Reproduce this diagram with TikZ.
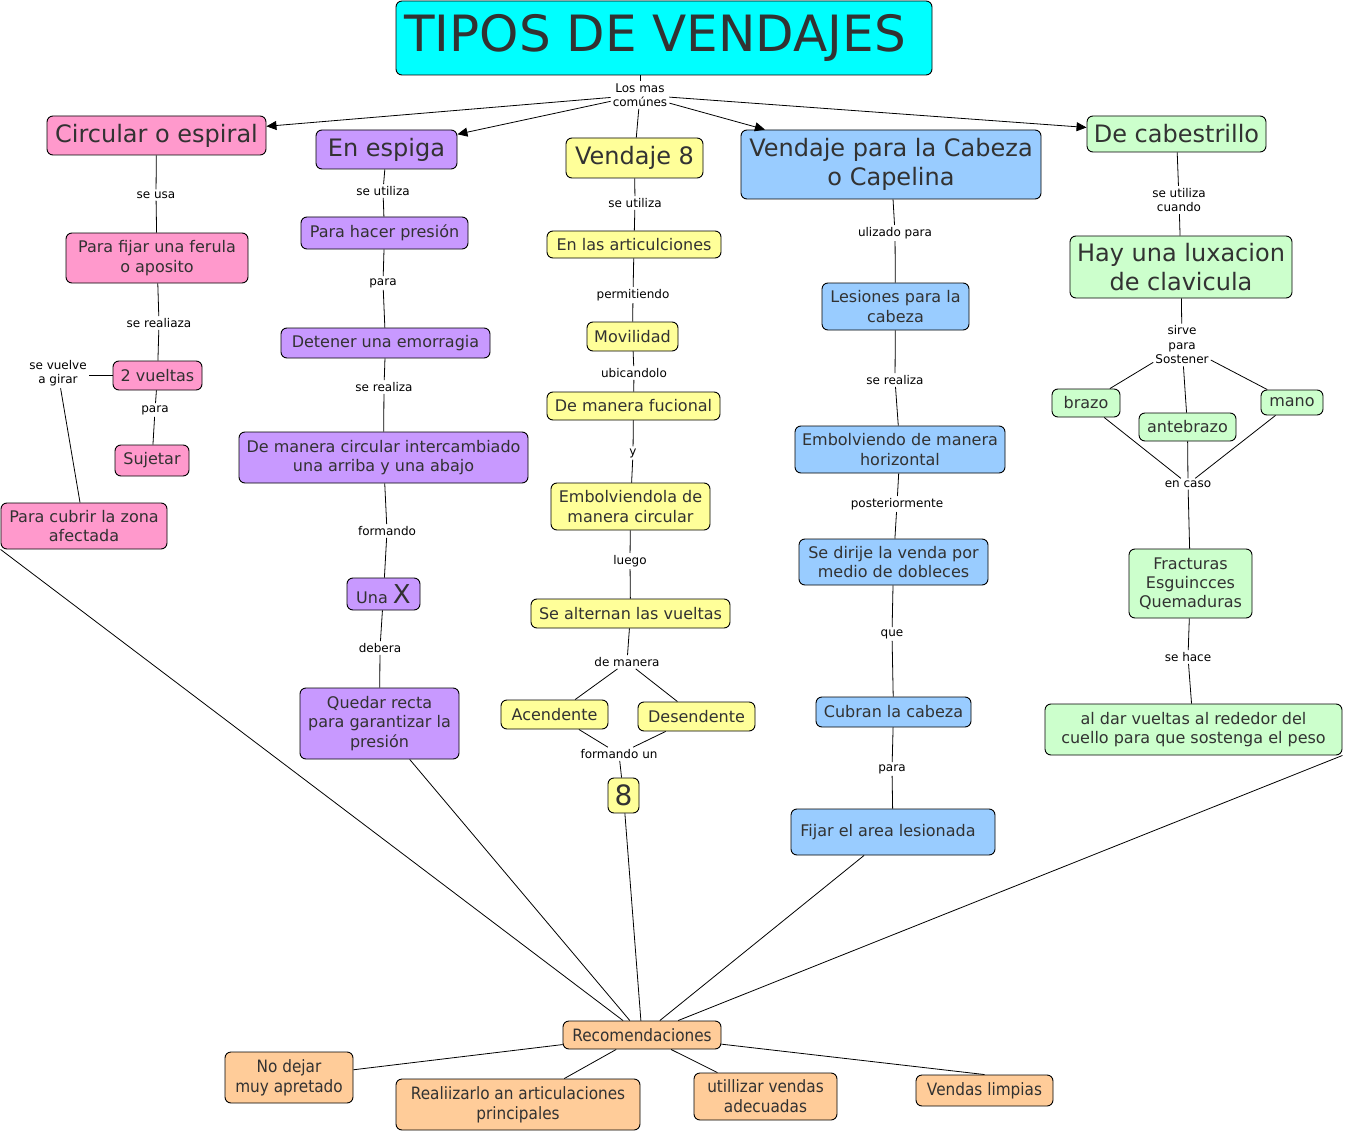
\documentclass[tikz,border=0pt]{standalone}
\usepackage{fontspec}
\setmainfont{DejaVu Sans}
\newfontfamily\condfont[FakeStretch=0.9]{DejaVu Sans}
\usetikzlibrary{arrows.meta}
\definecolor{ctitle}{RGB}{0,255,255}
\definecolor{cpink}{RGB}{255,153,204}
\definecolor{cpurple}{RGB}{200,153,255}
\definecolor{cyellow}{RGB}{255,255,153}
\definecolor{cblue}{RGB}{153,204,255}
\definecolor{cgreen}{RGB}{204,255,204}
\definecolor{corange}{RGB}{255,204,153}
\definecolor{txtgray}{RGB}{50,50,50}
\tikzset{
  concept/.style={draw=black,line width=0.9pt,rounded corners=6pt,inner sep=0pt,
    align=center,text=txtgray,font=\fontsize{16}{19.5}\selectfont},
  bigc/.style={font=\fontsize{24}{29}\selectfont},
  condc/.style={font=\condfont\fontsize{17}{20}\selectfont},
  linklabel/.style={inner sep=2pt,align=center,font=\fontsize{12}{14.5}\selectfont},
  link/.style={draw=black,line width=0.8pt},
  arr/.style={link,-{Triangle[length=10pt,width=9pt]}},
}
\newcommand{\cnode}[6]{\node[concept,#1,minimum width=#4,minimum height=#5] (#2) at (#3) {#6};}
\newcommand{\lnode}[3]{\node[linklabel] (#1) at (#2) {#3};}
\newcommand{\chain}[3]{\draw[link] (#1) -- (#2) -- (#3);}

\begin{document}
\begin{tikzpicture}[x=1pt,y=-1pt]
\useasboundingbox (0,0) rectangle (1345,1137);
\cnode{fill=ctitle,font=\fontsize{50}{52}\selectfont}{title}{664,38}{536}{74}{TIPOS DE VENDAJES\hspace*{18pt}}
\lnode{comunes}{640,95}{Los mas\\comúnes}
% primer nivel
\cnode{fill=cpink,bigc}{circular}{156.5,135.5}{219}{39}{Circular o espiral}
\cnode{fill=cpurple,bigc}{espiga}{386.5,149.5}{141}{39}{En espiga}
\cnode{fill=cyellow,bigc}{ocho}{634.5,158}{137}{40}{Vendaje 8}
\cnode{fill=cblue,bigc}{capelina}{891,164.5}{300}{69}{Vendaje para la Cabeza\\o Capelina}
\cnode{fill=cgreen,bigc}{cabestrillo}{1176.5,134}{179}{36}{De cabestrillo}
\draw[link] ([xshift=-24]title.south) -- (comunes);
\draw[arr] (comunes) -- (circular);
\draw[arr] (comunes) -- (espiga);
\draw[link] (comunes) -- (ocho);
\draw[arr] (comunes) -- (capelina);
\draw[arr] (comunes) -- (cabestrillo);
% circular o espiral
\cnode{fill=cpink}{ferula}{157,258}{182}{50}{Para fijar una ferula\\o aposito}
\cnode{fill=cpink}{vueltas}{157.5,375.5}{89}{29}{2 vueltas}
\cnode{fill=cpink}{sujetar}{152,460.5}{74}{31}{Sujetar}
\cnode{fill=cpink}{cubrir}{84,526}{166}{46}{Para cubrir la zona\\afectada}
\lnode{seusa}{156,195}{se usa}
\lnode{realiaza}{159,323}{se realiaza}
\lnode{paraA}{155,410}{para}
\lnode{girar}{58,373}{se vuelve\\a girar}
\chain{circular}{seusa}{ferula}
\chain{ferula}{realiaza}{vueltas}
\chain{vueltas}{paraA}{sujetar}
\draw[link] (vueltas.west) -- ([yshift=-2.5]girar.east);
\draw[link] (girar) -- (cubrir);
% en espiga
\cnode{fill=cpurple}{presion}{384.5,233}{167}{32}{Para hacer presión}
\cnode{fill=cpurple}{emorragia}{385.5,343}{209}{30}{Detener una emorragia}
\cnode{fill=cpurple}{intercambiado}{383.5,457.5}{289}{51}{De manera circular intercambiado\\una arriba y una abajo}
\cnode{fill=cpurple}{unax}{383.5,594}{73}{32}{Una {\fontsize{26}{26}\selectfont X}}
\cnode{fill=cpurple}{recta}{379.5,723.5}{159}{71}{Quedar recta\\para garantizar la\\presión}
\lnode{utilizaA}{383,191}{se utiliza}
\lnode{paraB}{383,283}{para}
\lnode{realizaA}{384,387}{se realiza}
\lnode{formando}{387,531}{formando}
\lnode{debera}{380,648}{debera}
\chain{espiga}{utilizaA}{presion}
\chain{presion}{paraB}{emorragia}
\chain{emorragia}{realizaA}{intercambiado}
\chain{intercambiado}{formando}{unax}
\chain{unax}{debera}{recta}
% vendaje 8
\cnode{fill=cyellow}{articul}{634,244.5}{174}{27}{En las articulciones}
\cnode{fill=cyellow}{movilidad}{632.5,336.5}{91}{29}{Movilidad}
\cnode{fill=cyellow}{fucional}{633.5,406}{173}{28}{De manera fucional}
\cnode{fill=cyellow}{embolv}{630.5,506.5}{159}{47}{Embolviendola de\\manera circular}
\cnode{fill=cyellow}{alternan}{630.5,613.5}{199}{29}{Se alternan las vueltas}
\cnode{fill=cyellow}{acend}{554.5,714.5}{107}{29}{Acendente}
\cnode{fill=cyellow}{desend}{696.5,716.5}{117}{29}{Desendente}
\cnode{fill=cyellow,font=\fontsize{28}{28}\selectfont}{numocho}{623.5,795.5}{31}{35}{8}
\lnode{utilizaB}{635,203}{se utiliza}
\lnode{permit}{633,295}{permitiendo}
\lnode{ubicando}{634,373}{ubicandolo}
\lnode{ylab}{633,453}{y}
\lnode{luego}{630,561}{luego}
\lnode{demanera}{627,662}{de manera}
\lnode{formun}{619,754}{formando un}
\chain{ocho}{utilizaB}{articul}
\chain{articul}{permit}{movilidad}
\chain{movilidad}{ubicando}{fucional}
\chain{fucional}{ylab}{embolv}
\chain{embolv}{luego}{alternan}
\chain{alternan}{demanera}{acend}
\draw[link] (demanera) -- (desend);
\chain{acend}{formun}{numocho}
\draw[link] (desend) -- (formun);
% capelina
\cnode{fill=cblue}{lesiones}{895.5,306.5}{147}{47}{Lesiones para la\\cabeza}
\cnode{fill=cblue}{horiz}{900,449.5}{210}{47}{Embolviendo de manera\\horizontal}
\cnode{fill=cblue}{dirije}{893.5,562}{189}{46}{Se dirije la venda por\\medio de dobleces}
\cnode{fill=cblue}{cubran}{893.5,712}{155}{30}{Cubran la cabeza}
\cnode{fill=cblue}{fijar}{893,832}{204}{46}{\raisebox{-5pt}{Fijar el area lesionada}\hspace*{10pt}}
\lnode{ulizado}{895,233}{ulizado para}
\lnode{realizaB}{895,380}{se realiza}
\lnode{posterior}{897,504}{posteriormente}
\lnode{que}{892,634}{que}
\lnode{paraC}{892,769}{para}
\chain{capelina}{ulizado}{lesiones}
\chain{lesiones}{realizaB}{horiz}
\chain{horiz}{posterior}{dirije}
\chain{dirije}{que}{cubran}
\chain{cubran}{paraC}{fijar}
% cabestrillo
\cnode{fill=cgreen,bigc}{luxacion}{1181,267}{222}{62}{Hay una luxacion\\de clavicula}
\cnode{fill=cgreen}{brazo}{1086,403}{68}{28}{brazo}
\cnode{fill=cgreen}{antebrazo}{1187.5,427}{97}{28}{antebrazo}
\cnode{fill=cgreen}{mano}{1292,402.5}{62}{25}{mano}
\cnode{fill=cgreen,font=\fontsize{16}{19}\selectfont}{fracturas}{1190.5,583.5}{123}{69}{Fracturas\\Esguincces\\Quemaduras}
\cnode{fill=cgreen}{aldar}{1193.5,729.5}{297}{51}{al dar vueltas al rededor del\\cuello para que sostenga el peso}
\lnode{cuando}{1179,200}{se utiliza\\cuando}
\lnode{sostener}{1182,345}{sirve\\para\\Sostener}
\lnode{encaso}{1188,484}{en caso}
\lnode{sehace}{1188,657}{se hace}
\chain{cabestrillo}{cuando}{luxacion}
\chain{luxacion}{sostener}{antebrazo}
\draw[link] (sostener) -- (brazo);
\draw[link] (sostener) -- (mano);
\chain{antebrazo}{encaso}{fracturas}
\draw[link] (brazo) -- (encaso);
\draw[link] (mano) -- (encaso);
\chain{fracturas}{sehace}{aldar}
% recomendaciones
\cnode{fill=corange,condc}{recom}{642,1035}{158}{28}{Recomendaciones}
\cnode{fill=corange,condc}{nodejar}{289,1077.5}{128}{51}{No dejar\\muy apretado}
\cnode{fill=corange,condc}{realiz}{518,1104.5}{244}{51}{Realiizarlo an articulaciones\\principales}
\cnode{fill=corange,condc}{utilizar}{765.5,1096.5}{143}{47}{utillizar vendas\\adecuadas}
\cnode{fill=corange,condc}{limpias}{984.5,1090.5}{137}{31}{Vendas limpias}
\draw[link] (cubrir.south west) -- (recom);
\draw[link] (recta) -- (recom);
\draw[link] (numocho) -- (recom);
\draw[link] (fijar) -- (recom);
\draw[link] (aldar.south east) -- (recom);
\draw[link] (recom) -- (nodejar);
\draw[link] (recom) -- (realiz);
\draw[link] (recom) -- (utilizar);
\draw[link] (recom) -- (limpias.north);
\end{tikzpicture}
\end{document}
